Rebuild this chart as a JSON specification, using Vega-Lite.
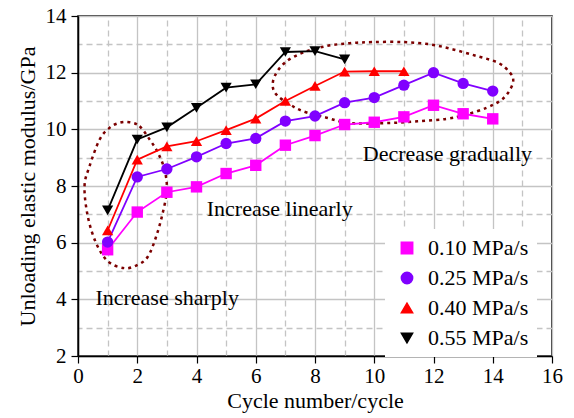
{
  "$schema": "https://vega.github.io/schema/vega-lite/v6.json",
  "width": 474,
  "height": 340,
  "autosize": "none",
  "padding": {"left": 78, "top": 16, "right": 22, "bottom": 62},
  "background": "white",
  "config": {
    "view": {"stroke": "black", "strokeWidth": 1.5},
    "font": "Liberation Serif",
    "axis": {
      "labelFont": "Liberation Serif",
      "labelFontSize": 21,
      "labelColor": "black",
      "titleFont": "Liberation Serif",
      "titleFontSize": 22,
      "titleFontWeight": "normal",
      "titleColor": "black",
      "domainColor": "black",
      "domainWidth": 1.5,
      "tickColor": "black",
      "tickWidth": 1.2,
      "gridColor": "#c4c4c4",
      "gridWidth": 1.3,
      "gridOpacity": 1,
      "labelFlush": false,
      "labelOverlap": false
    },
    "legend": {
      "labelFont": "Liberation Serif",
      "labelFontSize": 22,
      "labelColor": "black",
      "symbolSize": 144,
      "symbolOffset": 3,
      "labelOffset": 10,
      "rowPadding": 8,
      "padding": 8,
      "fillColor": "white",
      "symbolStrokeWidth": 1.5,
      "symbolOpacity": 1
    }
  },
  "datasets": {
    "series": [
      {"x": 1, "y": 5.75, "s": "0.10 MPa/s"}, {"x": 2, "y": 7.08, "s": "0.10 MPa/s"}, {"x": 3, "y": 7.78, "s": "0.10 MPa/s"}, {"x": 4, "y": 7.97, "s": "0.10 MPa/s"}, {"x": 5, "y": 8.44, "s": "0.10 MPa/s"}, {"x": 6, "y": 8.73, "s": "0.10 MPa/s"}, {"x": 7, "y": 9.44, "s": "0.10 MPa/s"}, {"x": 8, "y": 9.78, "s": "0.10 MPa/s"}, {"x": 9, "y": 10.17, "s": "0.10 MPa/s"}, {"x": 10, "y": 10.25, "s": "0.10 MPa/s"}, {"x": 11, "y": 10.44, "s": "0.10 MPa/s"}, {"x": 12, "y": 10.85, "s": "0.10 MPa/s"}, {"x": 13, "y": 10.55, "s": "0.10 MPa/s"}, {"x": 14, "y": 10.37, "s": "0.10 MPa/s"},
      {"x": 1, "y": 6.02, "s": "0.25 MPa/s"}, {"x": 2, "y": 8.32, "s": "0.25 MPa/s"}, {"x": 3, "y": 8.6, "s": "0.25 MPa/s"}, {"x": 4, "y": 9.03, "s": "0.25 MPa/s"}, {"x": 5, "y": 9.5, "s": "0.25 MPa/s"}, {"x": 6, "y": 9.68, "s": "0.25 MPa/s"}, {"x": 7, "y": 10.29, "s": "0.25 MPa/s"}, {"x": 8, "y": 10.47, "s": "0.25 MPa/s"}, {"x": 9, "y": 10.94, "s": "0.25 MPa/s"}, {"x": 10, "y": 11.12, "s": "0.25 MPa/s"}, {"x": 11, "y": 11.56, "s": "0.25 MPa/s"}, {"x": 12, "y": 12.0, "s": "0.25 MPa/s"}, {"x": 13, "y": 11.62, "s": "0.25 MPa/s"}, {"x": 14, "y": 11.35, "s": "0.25 MPa/s"},
      {"x": 1, "y": 6.43, "s": "0.40 MPa/s"}, {"x": 2, "y": 8.93, "s": "0.40 MPa/s"}, {"x": 3, "y": 9.4, "s": "0.40 MPa/s"}, {"x": 4, "y": 9.58, "s": "0.40 MPa/s"}, {"x": 5, "y": 9.97, "s": "0.40 MPa/s"}, {"x": 6, "y": 10.38, "s": "0.40 MPa/s"}, {"x": 7, "y": 11.0, "s": "0.40 MPa/s"}, {"x": 8, "y": 11.53, "s": "0.40 MPa/s"}, {"x": 9, "y": 12.04, "s": "0.40 MPa/s"}, {"x": 10, "y": 12.05, "s": "0.40 MPa/s"}, {"x": 11, "y": 12.05, "s": "0.40 MPa/s"},
      {"x": 1, "y": 7.14, "s": "0.55 MPa/s"}, {"x": 2, "y": 9.64, "s": "0.55 MPa/s"}, {"x": 3, "y": 10.07, "s": "0.55 MPa/s"}, {"x": 4, "y": 10.76, "s": "0.55 MPa/s"}, {"x": 5, "y": 11.47, "s": "0.55 MPa/s"}, {"x": 6, "y": 11.59, "s": "0.55 MPa/s"}, {"x": 7, "y": 12.73, "s": "0.55 MPa/s"}, {"x": 8, "y": 12.76, "s": "0.55 MPa/s"}, {"x": 9, "y": 12.47, "s": "0.55 MPa/s"}
    ],
    "ell": [
      {"e": "a", "i": 1, "x": 1.74, "y": 10.25}, {"e": "a", "i": 2, "x": 2.08, "y": 10.11}, {"e": "a", "i": 3, "x": 2.42, "y": 9.64}, {"e": "a", "i": 4, "x": 2.7, "y": 9.17}, {"e": "a", "i": 5, "x": 2.92, "y": 8.58}, {"e": "a", "i": 6, "x": 3.0, "y": 7.87}, {"e": "a", "i": 7, "x": 2.86, "y": 7.05}, {"e": "a", "i": 8, "x": 2.64, "y": 6.22}, {"e": "a", "i": 9, "x": 2.36, "y": 5.51}, {"e": "a", "i": 10, "x": 2.02, "y": 5.22}, {"e": "a", "i": 11, "x": 1.57, "y": 5.1}, {"e": "a", "i": 12, "x": 1.01, "y": 5.34}, {"e": "a", "i": 13, "x": 0.61, "y": 5.99}, {"e": "a", "i": 14, "x": 0.33, "y": 6.93}, {"e": "a", "i": 15, "x": 0.22, "y": 7.99}, {"e": "a", "i": 16, "x": 0.39, "y": 8.7}, {"e": "a", "i": 17, "x": 0.73, "y": 9.64}, {"e": "a", "i": 18, "x": 1.06, "y": 10.05}, {"e": "a", "i": 19, "x": 1.4, "y": 10.23},
      {"e": "b", "i": 1, "x": 6.58, "y": 11.47}, {"e": "b", "i": 2, "x": 6.64, "y": 11.88}, {"e": "b", "i": 3, "x": 6.98, "y": 12.35}, {"e": "b", "i": 4, "x": 7.59, "y": 12.71}, {"e": "b", "i": 5, "x": 8.39, "y": 12.94}, {"e": "b", "i": 6, "x": 9.17, "y": 13.04}, {"e": "b", "i": 7, "x": 9.96, "y": 13.08}, {"e": "b", "i": 8, "x": 10.97, "y": 13.08}, {"e": "b", "i": 9, "x": 11.88, "y": 13.0}, {"e": "b", "i": 10, "x": 12.66, "y": 12.82}, {"e": "b", "i": 11, "x": 13.45, "y": 12.59}, {"e": "b", "i": 12, "x": 14.18, "y": 12.35}, {"e": "b", "i": 13, "x": 14.58, "y": 12.0}, {"e": "b", "i": 14, "x": 14.69, "y": 11.7}, {"e": "b", "i": 15, "x": 14.52, "y": 11.29}, {"e": "b", "i": 16, "x": 14.24, "y": 11.0}, {"e": "b", "i": 17, "x": 13.79, "y": 10.76}, {"e": "b", "i": 18, "x": 13.11, "y": 10.52}, {"e": "b", "i": 19, "x": 12.44, "y": 10.37}, {"e": "b", "i": 20, "x": 11.54, "y": 10.29}, {"e": "b", "i": 21, "x": 10.64, "y": 10.23}, {"e": "b", "i": 22, "x": 9.74, "y": 10.21}, {"e": "b", "i": 23, "x": 9.06, "y": 10.23}, {"e": "b", "i": 24, "x": 8.39, "y": 10.41}, {"e": "b", "i": 25, "x": 7.59, "y": 10.64}, {"e": "b", "i": 26, "x": 7.15, "y": 10.88}, {"e": "b", "i": 27, "x": 6.75, "y": 11.17}
    ],
    "notes": [
      {"x": 3.01, "y": 3.8, "t": "Increase sharply"},
      {"x": 6.81, "y": 6.93, "t": "Increase linearly"},
      {"x": 12.47, "y": 8.9, "t": "Decrease gradually"}
    ]
  },
  "resolve": {"axis": {"x": "independent", "y": "independent"}},
  "layer": [
    {
      "data": {"name": "ell"},
      "mark": {"type": "line", "color": "#7b0000", "strokeWidth": 2.5, "strokeDash": [3, 4], "interpolate": "cardinal-closed"},
      "encoding": {
        "x": {
          "field": "x", "type": "quantitative",
          "scale": {"domain": [0, 16], "nice": false, "zero": false},
          "axis": {"orient": "top", "title": null, "values": [1, 3, 5, 7, 9, 11, 13, 15], "grid": true, "gridDash": [6, 4], "labels": false, "domain": false, "ticks": false}
        },
        "y": {
          "field": "y", "type": "quantitative",
          "scale": {"domain": [2, 14], "nice": false, "zero": false},
          "axis": {"orient": "right", "title": null, "values": [3, 5, 7, 9, 11, 13], "grid": true, "gridDash": [6, 4], "labels": false, "domain": false, "ticks": false}
        },
        "detail": {"field": "e"},
        "order": {"field": "i"}
      }
    },
    {
      "data": {"name": "series"},
      "mark": {"type": "line", "strokeWidth": 1.8},
      "encoding": {
        "x": {
          "field": "x", "type": "quantitative",
          "scale": {"domain": [0, 16], "nice": false, "zero": false},
          "axis": {"orient": "bottom", "title": "Cycle number/cycle", "values": [0, 2, 4, 6, 8, 10, 12, 14, 16], "grid": true, "gridDash": [1000, 1], "tickSize": 7, "labelPadding": 2, "titlePadding": 4}
        },
        "y": {
          "field": "y", "type": "quantitative",
          "scale": {"domain": [2, 14], "nice": false, "zero": false},
          "axis": {"orient": "left", "title": "Unloading elastic modulus/GPa", "values": [2, 4, 6, 8, 10, 12, 14], "grid": true, "gridDash": [1000, 1], "tickSize": 7, "labelPadding": 5, "titlePadding": 6}
        },
        "color": {
          "field": "s", "type": "nominal",
          "scale": {"domain": ["0.10 MPa/s", "0.25 MPa/s", "0.40 MPa/s", "0.55 MPa/s"], "range": ["#ff00ff", "#8000ff", "#ff0000", "#000000"]},
          "legend": {"title": null, "orient": "none", "legendX": 307, "legendY": 213, "labelFont": "Liberation Serif", "labelFontSize": 22, "labelColor": "black"}
        }
      }
    },
    {
      "data": {"name": "series"},
      "mark": {"type": "point", "filled": true, "opacity": 1},
      "encoding": {
        "x": {"field": "x", "type": "quantitative", "axis": null},
        "y": {"field": "y", "type": "quantitative", "axis": null},
        "color": {
          "field": "s", "type": "nominal",
          "scale": {"domain": ["0.10 MPa/s", "0.25 MPa/s", "0.40 MPa/s", "0.55 MPa/s"], "range": ["#ff00ff", "#8000ff", "#ff0000", "#000000"]},
          "legend": {"title": null, "orient": "none", "legendX": 307, "legendY": 213, "labelFont": "Liberation Serif", "labelFontSize": 22, "labelColor": "black"}
        },
        "shape": {
          "field": "s", "type": "nominal",
          "scale": {"domain": ["0.10 MPa/s", "0.25 MPa/s", "0.40 MPa/s", "0.55 MPa/s"], "range": ["square", "circle", "triangle-up", "triangle-down"]},
          "legend": {"title": null, "orient": "none", "legendX": 307, "legendY": 213, "labelFont": "Liberation Serif", "labelFontSize": 22, "labelColor": "black"}
        },
        "size": {
          "field": "s", "type": "ordinal",
          "scale": {"domain": ["0.10 MPa/s", "0.25 MPa/s", "0.40 MPa/s", "0.55 MPa/s"], "range": [130, 125, 175, 175]},
          "legend": null
        }
      }
    },
    {
      "data": {"name": "notes"},
      "mark": {"type": "text", "font": "Liberation Serif", "fontSize": 22, "align": "center", "baseline": "alphabetic", "color": "black"},
      "encoding": {
        "x": {"field": "x", "type": "quantitative", "axis": null},
        "y": {"field": "y", "type": "quantitative", "axis": null},
        "text": {"field": "t"}
      }
    }
  ]
}
